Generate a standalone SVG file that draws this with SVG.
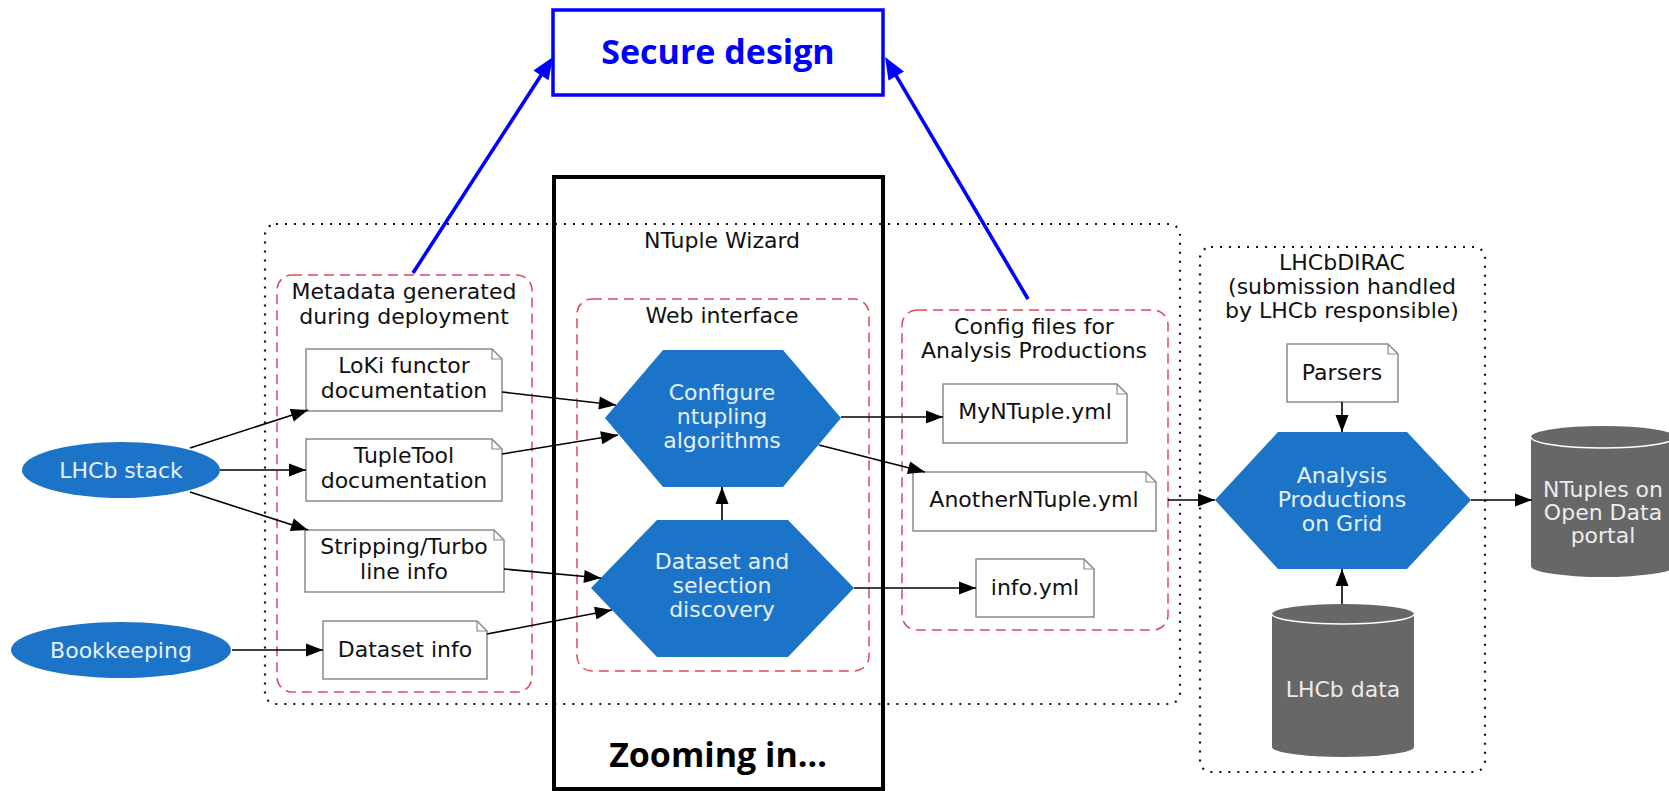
<svg xmlns="http://www.w3.org/2000/svg" width="1669" height="791" viewBox="0 0 1669 791">
<defs>
<style>
.lbl{font-family:"DejaVu Sans",Verdana,sans-serif;font-size:22px;fill:#111;text-anchor:middle}
.lt{fill:#e6f0fb}
.note{fill:#fff;stroke:#8a8a8a;stroke-width:1.5}
.fold{fill:none;stroke:#8a8a8a;stroke-width:1.2}
.blue{fill:#1c74c9}
.cyl{fill:#676767}
.cylarc{fill:none;stroke:#ffffff;stroke-width:1.5}
.edge{fill:none;stroke:#000;stroke-width:1.6;marker-end:url(#ah)}
.bedge{fill:none;stroke:#0000ff;stroke-width:3.6;marker-end:url(#bh)}
.dot{fill:none;stroke:#111;stroke-width:2.2;stroke-dasharray:2 7}
.red{fill:none;stroke:#de4a58;stroke-width:1.5;stroke-dasharray:10 6}
.big{font-family:"Open Sans","Noto Sans",sans-serif;font-weight:700;font-size:34px;text-anchor:middle}
</style>
<marker id="ah" markerUnits="userSpaceOnUse" markerWidth="18" markerHeight="14" refX="17" refY="6.5" orient="auto" overflow="visible"><path d="M0,0 L17,6.5 L0,13 z" fill="#000"/></marker>
<marker id="bh" markerUnits="userSpaceOnUse" markerWidth="24" markerHeight="20" refX="16" refY="9" orient="auto" overflow="visible"><path d="M0,0 L22,9 L0,18 z" fill="#0000ff"/></marker>
</defs>
<rect width="1669" height="791" fill="#fff"/>

<g id="cluster-ntuple-wizard">
<rect class="dot" x="265" y="224" width="915" height="480" rx="11"/>
<text class="lbl" x="722" y="248">NTuple Wizard</text>
</g>
<g id="cluster-metadata">
<rect class="red" x="277" y="275" width="255" height="417" rx="15"/>
<text class="lbl" x="404" y="299">Metadata generated</text>
<text class="lbl" x="404" y="324">during deployment</text>
</g>
<g id="cluster-web">
<rect class="red" x="577" y="299" width="292" height="372" rx="15"/>
<text class="lbl" x="722" y="323">Web interface</text>
</g>
<g id="cluster-config">
<rect class="red" x="902" y="310" width="266" height="320" rx="15"/>
<text class="lbl" x="1034" y="334">Config files for</text>
<text class="lbl" x="1034" y="358">Analysis Productions</text>
</g>
<g id="cluster-lhcbdirac">
<rect class="dot" x="1200" y="247" width="285" height="525" rx="11"/>
<text class="lbl" x="1342" y="270">LHCbDIRAC</text>
<text class="lbl" x="1342" y="294">(submission handled</text>
<text class="lbl" x="1342" y="318">by LHCb responsible)</text>
</g>

<g id="lhcb-stack">
<ellipse class="blue" cx="121" cy="470" rx="99" ry="28"/>
<text class="lbl lt" x="121" y="478">LHCb stack</text>
</g>
<g id="bookkeeping">
<ellipse class="blue" cx="121" cy="650" rx="110" ry="28"/>
<text class="lbl lt" x="121" y="658">Bookkeeping</text>
</g>

<g id="loki-doc">
<path class="note" d="M306,349 H492 L502,359 V411 H306 Z"/>
<path class="fold" d="M492,349 V359 H502"/>
<text class="lbl" x="404" y="373">LoKi functor</text>
<text class="lbl" x="404" y="398">documentation</text>
</g>
<g id="tupletool-doc">
<path class="note" d="M306,439 H492 L502,449 V501 H306 Z"/>
<path class="fold" d="M492,439 V449 H502"/>
<text class="lbl" x="404" y="463">TupleTool</text>
<text class="lbl" x="404" y="488">documentation</text>
</g>
<g id="stripping-info">
<path class="note" d="M305,530 H494 L504,540 V592 H305 Z"/>
<path class="fold" d="M494,530 V540 H504"/>
<text class="lbl" x="404" y="554">Stripping/Turbo</text>
<text class="lbl" x="404" y="579">line info</text>
</g>
<g id="dataset-info">
<path class="note" d="M323,621 H477 L487,631 V679 H323 Z"/>
<path class="fold" d="M477,621 V631 H487"/>
<text class="lbl" x="405" y="657">Dataset info</text>
</g>

<g id="configure">
<polygon class="blue" points="605,418 663,350 783,350 841,418 783,487 663,487"/>
<text class="lbl lt" x="722" y="400">Configure</text>
<text class="lbl lt" x="722" y="424">ntupling</text>
<text class="lbl lt" x="722" y="448">algorithms</text>
</g>
<g id="dataset-discovery">
<polygon class="blue" points="591,588 657,520 788,520 854,588 788,657 657,657"/>
<text class="lbl lt" x="722" y="569">Dataset and</text>
<text class="lbl lt" x="722" y="593">selection</text>
<text class="lbl lt" x="722" y="617">discovery</text>
</g>

<g id="myntuple">
<path class="note" d="M943,384 H1117 L1127,394 V443 H943 Z"/>
<path class="fold" d="M1117,384 V394 H1127"/>
<text class="lbl" x="1035" y="419">MyNTuple.yml</text>
</g>
<g id="anotherntuple">
<path class="note" d="M913,472 H1146 L1156,482 V531 H913 Z"/>
<path class="fold" d="M1146,472 V482 H1156"/>
<text class="lbl" x="1034" y="507">AnotherNTuple.yml</text>
</g>
<g id="info-yml">
<path class="note" d="M976,559 H1084 L1094,569 V617 H976 Z"/>
<path class="fold" d="M1084,559 V569 H1094"/>
<text class="lbl" x="1035" y="595">info.yml</text>
</g>

<g id="parsers">
<path class="note" d="M1287,344 H1388 L1398,354 V402 H1287 Z"/>
<path class="fold" d="M1388,344 V354 H1398"/>
<text class="lbl" x="1342" y="380">Parsers</text>
</g>
<g id="analysis-productions">
<polygon class="blue" points="1215,500 1278,432 1407,432 1471,500 1407,569 1278,569"/>
<text class="lbl lt" x="1342" y="483">Analysis</text>
<text class="lbl lt" x="1342" y="507">Productions</text>
<text class="lbl lt" x="1342" y="531">on Grid</text>
</g>
<g id="lhcb-data">
<path class="cyl" d="M1272,614 A71,10 0 0 1 1414,614 V747 A71,10 0 0 1 1272,747 Z"/>
<path class="cylarc" d="M1272,614 A71,10 0 0 0 1414,614"/>
<text class="lbl" x="1343" y="697" style="fill:#ececec">LHCb data</text>
</g>
<g id="ntuples-portal">
<path class="cyl" d="M1531,437 A72,11 0 0 1 1675,437 V566 A72,11 0 0 1 1531,566 Z"/>
<path class="cylarc" d="M1531,437 A72,11 0 0 0 1675,437"/>
<text class="lbl" x="1603" y="497" style="fill:#ececec">NTuples on</text>
<text class="lbl" x="1603" y="520" style="fill:#ececec">Open Data</text>
<text class="lbl" x="1603" y="543" style="fill:#ececec">portal</text>
</g>

<g id="connectors">
<line class="edge" x1="190" y1="448" x2="308" y2="410"/>
<line class="edge" x1="220" y1="470" x2="306" y2="470"/>
<line class="edge" x1="190" y1="492" x2="308" y2="530"/>
<line class="edge" x1="232" y1="650" x2="323" y2="650"/>
<line class="edge" x1="502" y1="392" x2="616" y2="405"/>
<line class="edge" x1="502" y1="454" x2="618" y2="435"/>
<line class="edge" x1="504" y1="569" x2="601" y2="578"/>
<line class="edge" x1="487" y1="634" x2="612" y2="610"/>
<line class="edge" x1="722" y1="520" x2="722" y2="487"/>
<line class="edge" x1="841" y1="417" x2="943" y2="417"/>
<line class="edge" x1="819" y1="445" x2="925" y2="472"/>
<line class="edge" x1="854" y1="588" x2="976" y2="588"/>
<line class="edge" x1="1168" y1="500" x2="1215" y2="500"/>
<line class="edge" x1="1342" y1="402" x2="1342" y2="432"/>
<line class="edge" x1="1342" y1="604" x2="1342" y2="569"/>
<line class="edge" x1="1471" y1="500" x2="1532" y2="500"/>
<line class="bedge" x1="413" y1="273" x2="549.7" y2="62"/>
<line class="bedge" x1="1028" y1="299" x2="888.1" y2="62.2"/>
</g>

<g id="secure-design">
<rect x="553" y="10" width="330" height="85" fill="#fff" stroke="#0000ff" stroke-width="3.5"/>
<text class="big" x="718" y="64" fill="#0000ff">Secure design</text>
</g>
<g id="zooming-in">
<rect x="554" y="177" width="329" height="612" fill="none" stroke="#000" stroke-width="4"/>
<text class="big" x="718" y="767" fill="#000">Zooming in...</text>
</g>
</svg>
